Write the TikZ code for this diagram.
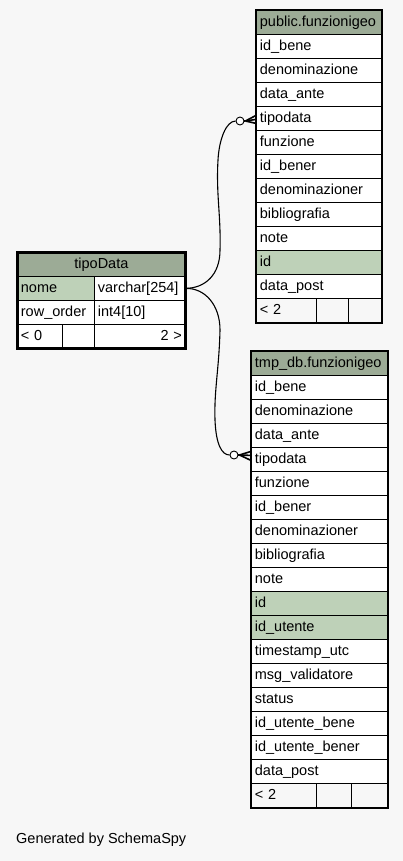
\documentclass[tikz,border=0pt]{standalone}
\usepackage{fontspec}
\setmainfont{Liberation Sans}
\usetikzlibrary{calc}
\definecolor{hdr}{HTML}{9CAB96}
\definecolor{keyc}{HTML}{BED1B8}
\definecolor{bgc}{HTML}{F7F7F7}
\definecolor{shd}{HTML}{B8B8B8}
\tikzset{
  cell/.style={draw=black, line width=0.8pt, anchor=north west, minimum height=24pt,
    inner xsep=3.5pt, inner ysep=0pt, font=\fontsize{14.5}{15}\selectfont,
    text height=10.5pt, text depth=3pt, align=left},
  outer/.style={draw=black, line width=1.4pt},
  rel/.style={draw=black, line width=1.1pt},
  crow/.style={draw=black, line width=1.6pt},
  odot/.style={circle, draw=black, fill=white, line width=0.9pt, minimum size=8pt, inner sep=0pt},
  shadow/.style={fill=shd}
}
\begin{document}
\begin{tikzpicture}[x=1pt, y=-1pt]
\useasboundingbox[fill=bgc] (0,0) rectangle (403,861);
% shadows
\fill[shadow] (258,12) rectangle (383,324);
\fill[shadow] (253,353) rectangle (389,809);
% public.funzionigeo
\node[cell, fill=hdr, text width=118pt] (pubH) at (256,10) {public.funzionigeo};
\foreach [count=\i] \t/\f in {id\_bene/white, denominazione/white, data\_ante/white, tipodata/white, funzione/white, id\_bener/white, denominazioner/white, bibliografia/white, note/white, id/keyc, data\_post/white}
  \node[cell, fill=\f, text width=118pt] (pub\i) at (256,{34+24*(\i-1)}) {\t};
\node[cell, fill=bgc, text width=53pt] (pubF1) at (256,298) {< 2};
\node[cell, fill=bgc, text width=25pt] (pubF2) at (316,298) {};
\node[cell, fill=bgc, text width=26pt] (pubF3) at (348,298) {};
\draw[outer] (pubH.north west) rectangle (pubF3.south east);
% tmp_db.funzionigeo
\node[cell, fill=hdr, text width=129pt] (tmpH) at (251,351) {tmp\_db.funzionigeo};
\foreach [count=\i] \t/\f in {id\_bene/white, denominazione/white, data\_ante/white, tipodata/white, funzione/white, id\_bener/white, denominazioner/white, bibliografia/white, note/white, id/keyc, id\_utente/keyc, timestamp\_utc/white, msg\_validatore/white, status/white, id\_utente\_bene/white, id\_utente\_bener/white, data\_post/white}
  \node[cell, fill=\f, text width=129pt] (tmp\i) at (251,{375+24*(\i-1)}) {\t};
\node[cell, fill=bgc, text width=58pt] (tmpF1) at (251,783) {< 2};
\node[cell, fill=bgc, text width=28pt] (tmpF2) at (316,783) {};
\node[cell, fill=bgc, text width=29pt] (tmpF3) at (351,783) {};
\draw[outer] (tmpH.north west) rectangle (tmpF3.south east);
% tipoData
\node[cell, fill=hdr, text width=161pt, align=center] (tdH) at (17,252) {tipoData};
\node[cell, fill=keyc, text width=70pt] (tdNome) at (17,276) {nome};
\node[cell, fill=white, text width=84pt] (tdNomeV) at (94,276) {varchar[254]};
\node[cell, fill=white, text width=70pt] (tdRow) at (17,300) {row\_order};
\node[cell, fill=white, text width=84pt] (tdRowV) at (94,300) {int4[10]};
\node[cell, fill=white, text width=38pt] (tdF1) at (17,324) {< 0};
\node[cell, fill=white, text width=25pt] (tdF2) at (62,324) {};
\node[cell, fill=white, text width=84pt, align=right] (tdF3) at (94,324) {2 >};
\draw[draw=black, line width=3pt] (tdH.north west) rectangle (tdF3.south east);
% relationship circles
\node[odot] (c1) at (240,121) {};
\node[odot] (c2) at (234,455) {};
% connectors
\draw[rel] (tdNomeV.east) .. controls (205,288) and (220,275) .. (220,250)
  .. controls (221,215) and (216,195) .. (218,160)
  .. controls (219,140) and (226,121) .. (c1.west);
\draw[rel] (tdNomeV.east) .. controls (205,288) and (220,305) .. (220,330)
  .. controls (219,370) and (214,390) .. (215,420)
  .. controls (216,445) and (222,455) .. (c2.west);
% crow's feet
\coordinate (a1) at ($(c1.east)+(1,0)$);
\draw[crow] (c1.east) -- (a1);
\draw[crow] (a1) -- ($(pub4.west)+(0,-3)$);
\draw[crow] (a1) -- ($(pub4.west)+(0,1)$);
\draw[crow] (a1) -- ($(pub4.west)+(0,5)$);
\coordinate (a2) at ($(c2.east)+(1,0)$);
\draw[crow] (c2.east) -- (a2);
\draw[crow] (a2) -- ($(tmp4.west)+(0,-8)$);
\draw[crow] (a2) -- ($(tmp4.west)+(0,-4)$);
\draw[crow] (a2) -- ($(tmp4.west)+(0,1)$);
% footer text
\node[anchor=west, inner sep=0pt, font=\fontsize{14.5}{15}\selectfont] (gen) at (16,840) {Generated by SchemaSpy};
\end{tikzpicture}
\end{document}
